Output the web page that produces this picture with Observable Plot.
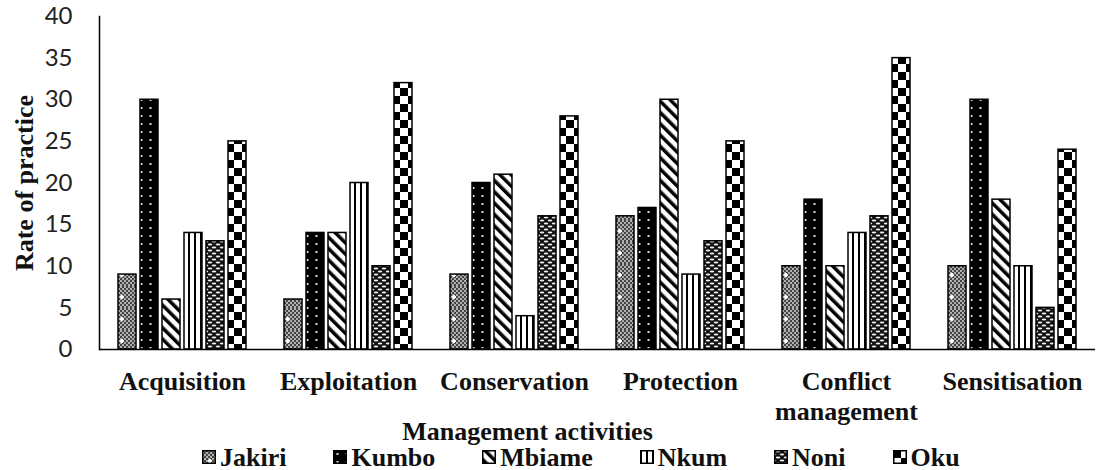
<!DOCTYPE html>
<html><head><meta charset="utf-8">
<script src="https://cdn.jsdelivr.net/npm/d3@7"></script>
<script src="https://cdn.jsdelivr.net/npm/@observablehq/plot@0.6"></script>
<style>
body{margin:0;background:#fff;}
#chart svg{display:block;overflow:visible;}
#legend{height:24px;line-height:24px;font-family:"Liberation Serif","Times New Roman",serif;font-weight:bold;font-size:26px;color:#111;white-space:nowrap;padding-left:202px;}
#legend .item{display:inline-block;margin-right:47px;}
#legend svg{display:inline-block;vertical-align:baseline;margin-right:4px;position:relative;top:-2px;}
</style></head><body>
<svg width="0" height="0" style="position:absolute"><defs>
<pattern id="fine" width="4" height="4" patternUnits="userSpaceOnUse"><rect width="4" height="4" fill="#b0b0b0"/><rect width="2" height="2" fill="#444"/><rect x="2" y="2" width="2" height="2" fill="#444"/></pattern>
<pattern id="pat-Jakiri" width="16" height="22" patternUnits="userSpaceOnUse"><rect width="16" height="22" fill="url(#fine)"/><rect x="7" y="9" width="2" height="4" fill="#fff"/><rect x="6" y="10" width="4" height="2" fill="#fff"/></pattern>
<pattern id="pat-Kumbo" width="9" height="8" patternUnits="userSpaceOnUse"><rect width="9" height="8" fill="#000"/><rect x="3.5" y="3" width="2" height="2" fill="#ddd"/></pattern>
<pattern id="pat-Mbiame" width="8" height="8" patternUnits="userSpaceOnUse" patternTransform="rotate(-45)"><rect width="8" height="8" fill="#fff"/><rect width="3.5" height="8" fill="#000"/></pattern>
<pattern id="pat-Nkum" width="6" height="6" patternUnits="userSpaceOnUse"><rect width="6" height="6" fill="#fff"/><rect width="2" height="6" fill="#000"/></pattern>
<pattern id="pat-Noni" width="8" height="6" patternUnits="userSpaceOnUse"><rect width="8" height="6" fill="#111"/><ellipse cx="4" cy="1.5" rx="2.3" ry="1" fill="#eee"/><ellipse cx="0" cy="4.5" rx="2.3" ry="1" fill="#eee"/><ellipse cx="8" cy="4.5" rx="2.3" ry="1" fill="#eee"/></pattern>
<pattern id="pat-Oku" width="16" height="16" patternUnits="userSpaceOnUse"><rect width="16" height="16" fill="#fff"/><rect width="8" height="8" fill="#000"/><rect x="8" y="8" width="8" height="8" fill="#000"/></pattern>
</defs></svg>
<div id="chart"></div>
<div id="legend"></div>
<script>
const activities = ["Acquisition", "Exploitation", "Conservation", "Protection", "Conflict\nmanagement", "Sensitisation"];
const sites = ["Jakiri", "Kumbo", "Mbiame", "Nkum", "Noni", "Oku"];
const jakiri = [9, 6, 9, 16, 10, 10];
const kumbo = [30, 14, 20, 17, 18, 30];
const mbiame = [6, 14, 21, 30, 10, 18];
const nkum = [14, 20, 4, 9, 14, 10];
const noni = [13, 10, 16, 13, 16, 5];
const oku = [25, 32, 28, 25, 35, 24];
const yTicks = [0, 5, 10, 15, 20, 25, 30, 35, 40];
const xTitle = "Management activities";
const yTitle = "Rate of practice";

const seriesValues = [jakiri, kumbo, mbiame, nkum, noni, oku];
const data = [];
activities.forEach((a, i) => sites.forEach((s, j) => data.push({activity: a, site: s, value: seriesValues[j][i]})));

const serif = "Liberation Serif, Times New Roman, serif";

const chart = Plot.plot({
  width: 1097,
  height: 446,
  marginLeft: 97,
  marginRight: 0,
  marginTop: 16,
  marginBottom: 97,
  fx: {domain: activities, padding: 0},
  x: {domain: sites, paddingInner: 0.2, paddingOuter: 0.8, axis: null},
  y: {domain: [0, 40]},
  color: {type: "identity"},
  marks: [
    Plot.barY(data, {fx: "activity", x: "site", y: "value", fill: d => `url(#pat-${d.site})`, stroke: "#000", strokeWidth: 1.5}),
    Plot.ruleY([0], {stroke: "#000", strokeWidth: 1.5}),
    Plot.frame({anchor: "left", facetAnchor: "left", stroke: "#000", strokeWidth: 1.5}),
    Plot.axisY({ticks: yTicks, tickSize: 0, tickPadding: 27, fontSize: 24, fontFamily: "Lato", fill: "#222", label: null}),
    Plot.axisFx({anchor: "bottom", tickSize: 0, tickPadding: 19, fontSize: 26, fontFamily: serif, fontWeight: "bold", fill: "#111", lineHeight: 1.15, label: null}),
    Plot.text([xTitle], {fx: () => activities[2], frameAnchor: "bottom", lineAnchor: "top", dy: 72, dx: 13, fontSize: 26, fontFamily: serif, fontWeight: "bold", fill: "#111"}),
    Plot.text([yTitle], {fx: () => activities[0], frameAnchor: "left", textAnchor: "middle", rotate: -90, lineAnchor: "top", dx: -85, fontSize: 26, fontFamily: serif, fontWeight: "bold", fill: "#111"})
  ]
});
document.getElementById("chart").appendChild(chart);

const legend = document.getElementById("legend");
sites.forEach(s => {
  const item = document.createElement("span");
  item.className = "item";
  item.innerHTML = `<svg width="14" height="14"><rect x="0.75" y="0.75" width="12.5" height="12.5" fill="url(#pat-${s})" stroke="#000" stroke-width="1.5"/></svg>${s}`;
  legend.appendChild(item);
});
</script>
</body></html>
